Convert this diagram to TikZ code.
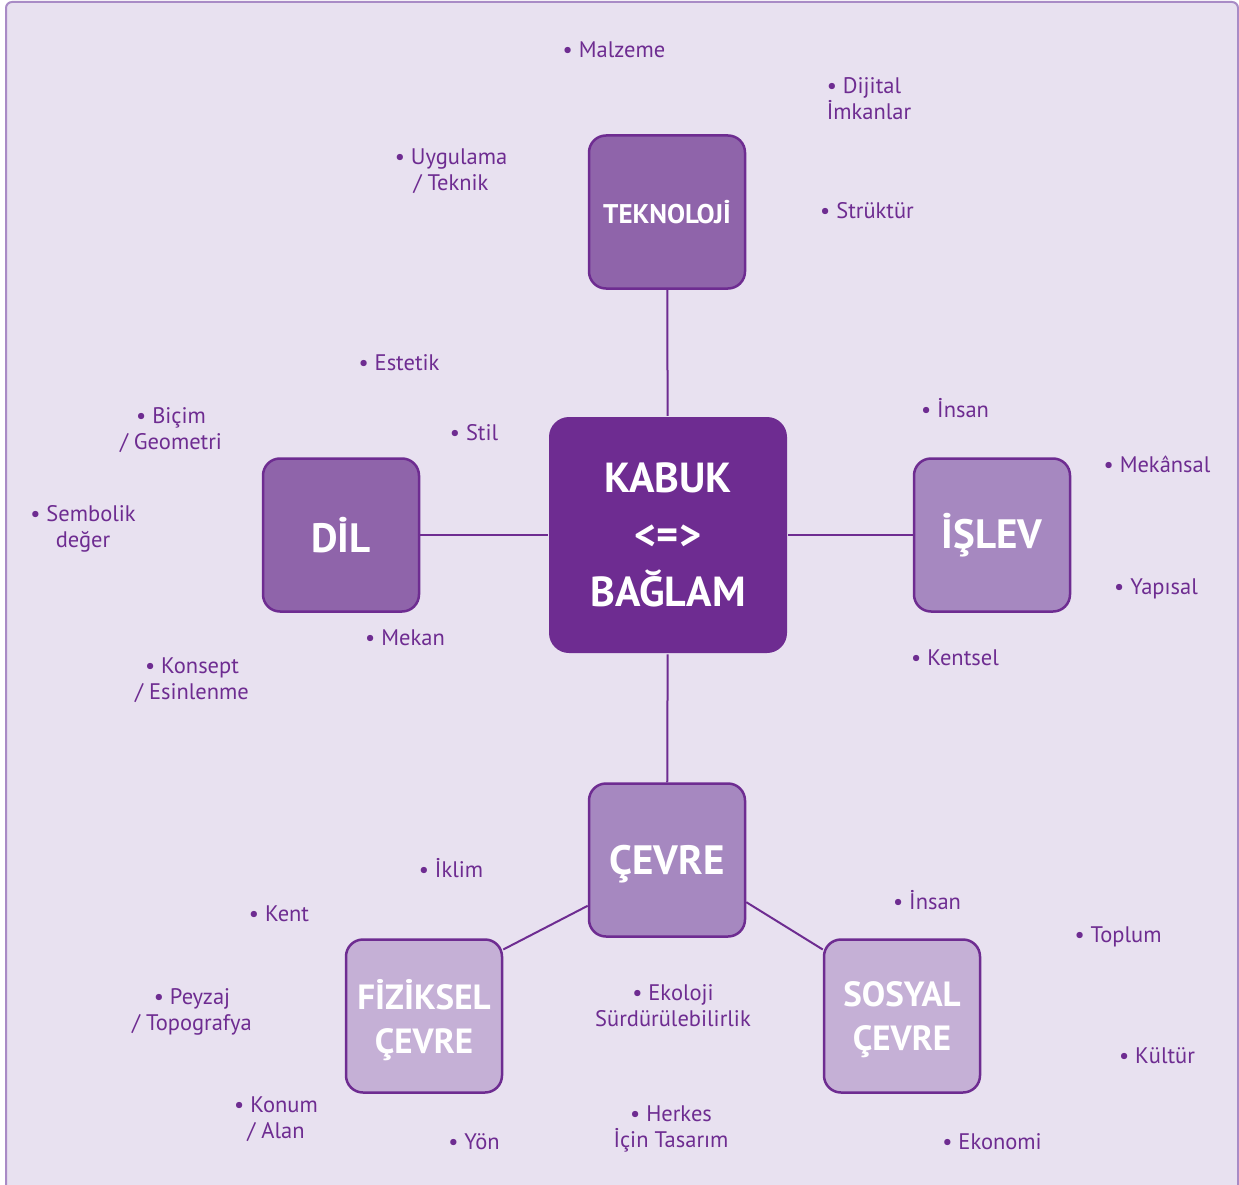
\documentclass[tikz,border=0pt]{standalone}
\usepackage{fontspec}
\setmainfont{PT Sans}
\usepackage{tikz}
\definecolor{deep}{HTML}{6E2C91}
\definecolor{mid}{HTML}{8F64AA}
\definecolor{soft}{HTML}{A688C0}
\definecolor{pale}{HTML}{C5B0D6}
\definecolor{bg}{HTML}{E8E1F0}
\definecolor{rim}{HTML}{A98BC6}
\tikzstyle{box}=[rectangle,rounded corners=17pt,draw=deep,line width=2.5pt,minimum width=156pt,minimum height=153pt,text=white,align=center,inner sep=0pt]
\tikzstyle{item}=[text=deep,font=\fontsize{22.5}{26}\selectfont,align=center,inner sep=0pt]
\tikzstyle{link}=[draw=deep,line width=2pt]

\begin{document}
\begin{tikzpicture}[x=1pt,y=-1pt]
\useasboundingbox (0,0) rectangle (1239,1185);
\fill[white] (0,0) rectangle (1239,1185);
\draw[rim,fill=bg,line width=2pt,rounded corners=6pt] (6,2) rectangle (1238,1192);
% boxes
\node[box,fill=deep,draw=none,minimum width=238pt,minimum height=236pt,rounded corners=20pt,font=\bfseries\fontsize{42}{57}\selectfont] (kabuk) at (668,535) {KABUK\\<=>\\BAĞLAM};
\node[box,fill=mid,font=\bfseries\fontsize{27}{30}\selectfont] (tekno) at (667,212) {TEKNOLOJİ};
\node[box,fill=mid,font=\bfseries\fontsize{41}{44}\selectfont] (dil) at (341,535) {DİL};
\node[box,fill=soft,font=\bfseries\fontsize{41}{44}\selectfont] (islev) at (992,535) {İŞLEV};
\node[box,fill=soft,text depth=0pt,font=\bfseries\fontsize{41}{44}\selectfont] (cevre) at (667,860) {ÇEVRE};
\node[box,fill=pale,text depth=0pt,font=\bfseries\fontsize{35}{44}\selectfont] (fiz) at (424,1016) {FİZİKSEL\\ÇEVRE};
\node[box,fill=pale,text depth=0pt,font=\bfseries\fontsize{35}{44}\selectfont] (sos) at (902,1016) {SOSYAL\\ÇEVRE};
% links
\draw[link] (tekno) -- (kabuk);
\draw[link] (dil) -- (kabuk);
\draw[link] (kabuk) -- (islev);
\draw[link] (kabuk) -- (cevre);
\draw[link] (cevre.210) -- (fiz.40);
\draw[link] (cevre.-28) -- (sos.140);
% items
\node[item] (malzeme) at (614,50) {• Malzeme};
\node[item,align=left] (dijital) at (869,99) {• Dijital\\İmkanlar};
\node[item] (uygulama) at (451,171) {• Uygulama\\/ Teknik};
\node[item] (struktur) at (867,211) {• Strüktür};
\node[item] (estetik) at (399,363) {• Estetik};
\node[item] (insan1) at (955,408) {• İnsan};
\node[item] (bicim) at (171,430) {• Biçim\\/ Geometri};
\node[item] (stil) at (474,433) {• Stil};
\node[item] (mekansal) at (1157,464) {• Mekânsal};
\node[item] (sembolik) at (83,529) {• Sembolik\\değer};
\node[item] (yapisal) at (1156,589) {• Yapısal};
\node[item] (mekan) at (405,638) {• Mekan};
\node[item] (kentsel) at (955,658) {• Kentsel};
\node[item] (konsept) at (192,680) {• Konsept\\/ Esinlenme};
\node[item] (iklim) at (451,868) {• İklim};
\node[item] (insan2) at (927,900) {• İnsan};
\node[item] (kent) at (279,914) {• Kent};
\node[item] (toplum) at (1118,937) {• Toplum};
\node[item] (ekoloji) at (673,1006) {• Ekoloji\\Sürdürülebilirlik};
\node[item] (peyzaj) at (192,1012) {• Peyzaj\\/ Topografya};
\node[item] (kultur) at (1157,1056) {• Kültür};
\node[item] (konum) at (276,1119) {• Konum\\/ Alan};
\node[item] (herkes) at (671,1129) {• Herkes\\İçin Tasarım};
\node[item] (yon) at (474,1142) {• Yön};
\node[item] (ekonomi) at (992,1142) {• Ekonomi};
\end{tikzpicture}
\end{document}
